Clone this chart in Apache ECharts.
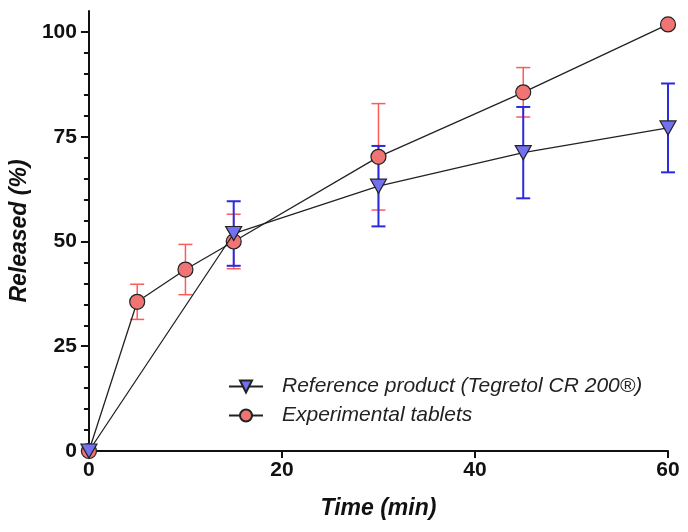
<!DOCTYPE html>
<html><head><meta charset="utf-8">
<script src="https://cdn.jsdelivr.net/npm/echarts@6/dist/echarts.min.js"></script>
<style>html,body{margin:0;padding:0;background:#fff}#c{width:688px;height:532px}</style>
</head><body><div id="c"></div>
<script>
var expTime = [0, 5, 10, 15, 30, 45, 60];
var expMean = [0, 35.6, 43.3, 50.0, 70.2, 85.6, 101.8];
var expSD   = [0, 4.2, 6.0, 6.5, 12.7, 5.9, 0];
var refTime = [0, 15, 30, 45, 60];
var refMean = [0, 51.9, 63.2, 71.2, 77.1];
var refSD   = [0, 7.7, 9.6, 10.9, 10.6];
var yMajor = [0, 25, 50, 75, 100];
var yMinor = [5, 10, 15, 20, 30, 35, 40, 45, 55, 60, 65, 70, 80, 85, 90, 95];
var xTicks = [0, 20, 40, 60];

var FONT = 'Liberation Sans, Arial, sans-serif';
function pairs(t, v) { return t.map(function (x, i) { return [x, v[i]]; }); }
function errData(t, m, s) { return t.map(function (x, i) { return [x, m[i] - s[i], m[i] + s[i]]; }); }
function errRender(color, width) {
  return function (params, api) {
    var x = api.value(0);
    var lo = api.coord([x, api.value(1)]);
    var hi = api.coord([x, api.value(2)]);
    var hw = 7;
    var st = { stroke: color, lineWidth: width };
    return { type: 'group', children: [
      { type: 'line', shape: { x1: lo[0], y1: lo[1], x2: hi[0], y2: hi[1] }, style: st },
      { type: 'line', shape: { x1: lo[0] - hw, y1: lo[1], x2: lo[0] + hw, y2: lo[1] }, style: st },
      { type: 'line', shape: { x1: hi[0] - hw, y1: hi[1], x2: hi[0] + hw, y2: hi[1] }, style: st }
    ]};
  };
}
var chart = echarts.init(document.getElementById('c'), null, { renderer: 'canvas' });
chart.setOption({
  animation: false,
  backgroundColor: '#fff',
  textStyle: { fontFamily: FONT },
  grid: { left: 88, right: 20, top: 11, bottom: 81, containLabel: false },
  legend: {
    orient: 'vertical', left: 223, top: 371, itemWidth: 34, itemHeight: 15, itemGap: 8,
    textStyle: { fontFamily: FONT, fontStyle: 'italic', fontSize: 21, color: '#222', padding: [0, 0, 0, 14] },
    data: ['Reference product (Tegretol CR 200®)', 'Experimental tablets']
  },
  xAxis: {
    type: 'value', min: 0, max: 60, interval: 20,
    name: 'Time (min)', nameLocation: 'middle', nameGap: 46,
    nameTextStyle: { fontFamily: FONT, fontWeight: 'bold', fontStyle: 'italic', fontSize: 23, color: '#111' },
    axisLine: { lineStyle: { color: '#111', width: 2 } },
    axisTick: { length: 7, lineStyle: { color: '#111', width: 2 } },
    axisLabel: { margin: 9, fontFamily: FONT, fontWeight: 'bold', fontSize: 21, color: '#111' },
    splitLine: { show: false }
  },
  yAxis: [{
    type: 'value', min: 0, max: 105,
    name: 'Released (%)', nameLocation: 'middle', nameGap: 57,
    nameTextStyle: { fontFamily: FONT, fontWeight: 'bold', fontStyle: 'italic', fontSize: 23, color: '#111' },
    axisLine: { show: true, lineStyle: { color: '#111', width: 2 } },
    axisTick: { show: true, length: 8, customValues: yMajor, lineStyle: { color: '#111', width: 2 } },
    axisLabel: { margin: 12, customValues: yMajor, fontFamily: FONT, fontWeight: 'bold', fontSize: 21, color: '#111' },
    splitLine: { show: false }
  }, {
    type: 'value', min: 0, max: 105, position: 'left',
    axisLine: { show: false },
    axisTick: { show: true, length: 5, customValues: yMinor, lineStyle: { color: '#111', width: 2 } },
    axisLabel: { show: false },
    splitLine: { show: false }
  }],
  series: [
    { type: 'custom', name: 'errExp', renderItem: errRender('#ff5a5a', 1.5), data: errData(expTime, expMean, expSD), z: 1, silent: true },
    { type: 'custom', name: 'errRef', renderItem: errRender('#2a2ae0', 2), data: errData(refTime, refMean, refSD), z: 1, silent: true },
    {
      type: 'line', name: 'Experimental tablets', data: pairs(expTime, expMean), z: 3,
      symbol: 'circle', symbolSize: 15,
      lineStyle: { color: '#222', width: 1.3 },
      itemStyle: { color: '#f07474', borderColor: '#222', borderWidth: 1.2 }
    },
    {
      type: 'line', name: 'Reference product (Tegretol CR 200®)', data: pairs(refTime, refMean), z: 4,
      symbol: 'triangle', symbolRotate: 180, symbolSize: [16, 14],
      lineStyle: { color: '#222', width: 1.3 },
      itemStyle: { color: '#7272f0', borderColor: '#222', borderWidth: 1.2 }
    }
  ]
});
</script></body></html>
